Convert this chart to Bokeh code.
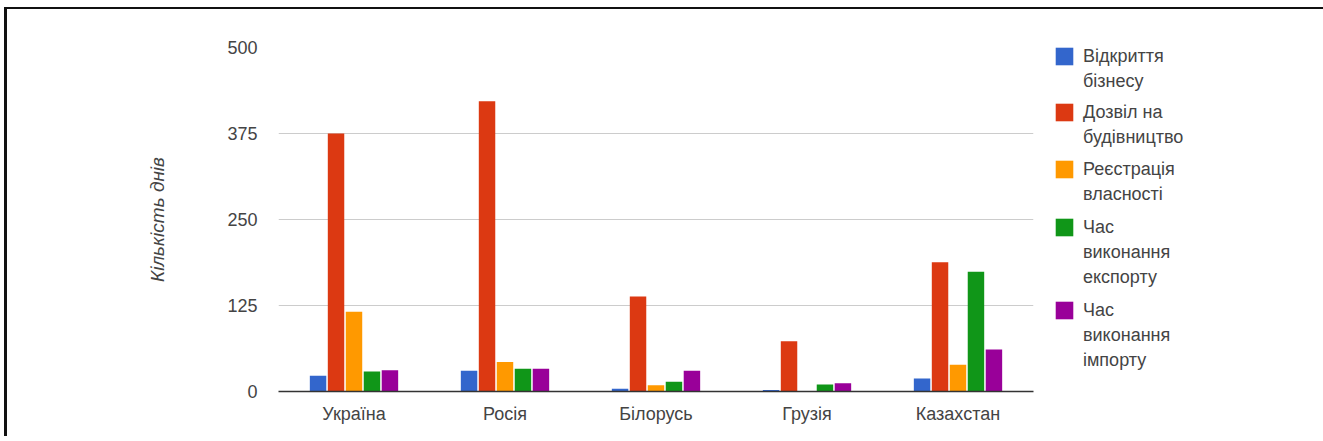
from bokeh.plotting import figure
from bokeh.layouts import row
from bokeh.models import (FactorRange, Range1d, FixedTicker, Legend, LegendItem,
                          ColumnDataSource)
from bokeh.transform import dodge
from bokeh.embed import file_html
from bokeh.resources import INLINE

# Days needed for each procedure, by country
countries = ["Україна", "Росія", "Білорусь", "Грузія", "Казахстан"]
series_lines = [["Відкриття", "бізнесу"], ["Дозвіл на", "будівництво"], ["Реєстрація", "власності"],
                ["Час", "виконання", "експорту"], ["Час", "виконання", "імпорту"]]
start_business = [23, 30, 4, 2, 19]
construction_permit = [375, 422, 138, 73, 188]
property_registration = [116, 43, 9, 0, 39]
export_time = [29, 33, 14, 10, 174]
import_time = [31, 33, 30, 12, 61]
y_ticks = [0, 125, 250, 375, 500]

colors = ["#3366cc", "#dc3912", "#ff9900", "#109618", "#990099"]
series = [start_business, construction_permit, property_registration, export_time, import_time]
keys = ["s0", "s1", "s2", "s3", "s4"]

data = {"country": countries}
for k, vals in zip(keys, series):
    data[k] = vals
source = ColumnDataSource(data)

FONT = "Liberation Sans"
TEXT = "#444444"
H = 436
MAIN_W, LEG_W = 1045, 278
LEFT, RIGHT, TOP, BOTTOM = 278, 12, 47, 45

# ---- main chart ----
p = figure(width=MAIN_W, height=H, output_backend="svg", toolbar_location=None,
           x_range=FactorRange(*countries, range_padding=0), y_range=Range1d(0, 500),
           min_border_left=LEFT, min_border_right=RIGHT, min_border_top=TOP, min_border_bottom=BOTTOM)
p.outline_line_color = None
p.background_fill_color = "white"
p.border_fill_alpha = 0

step = 0.119
bar_w = 0.109
for i, (k, c) in enumerate(zip(keys, colors)):
    p.vbar(x=dodge("country", (i - 2) * step, range=p.x_range), top=k, width=bar_w,
           source=source, fill_color=c, line_color=None)

p.yaxis.ticker = FixedTicker(ticks=y_ticks)
p.yaxis.axis_line_color = None
p.yaxis.major_tick_line_color = None
p.yaxis.major_tick_out = 0
p.yaxis.minor_tick_line_color = None
p.yaxis.major_label_standoff = 21
p.yaxis.major_label_text_font = FONT
p.yaxis.major_label_text_font_size = "18px"
p.yaxis.major_label_text_color = TEXT
p.yaxis.axis_label = "Кількість днів"
p.yaxis.axis_label_text_font = FONT
p.yaxis.axis_label_text_font_size = "19px"
p.yaxis.axis_label_text_font_style = "italic"
p.yaxis.axis_label_text_color = TEXT
p.yaxis.axis_label_standoff = 56

p.xaxis.axis_line_color = "#333333"
p.xaxis.axis_line_width = 1.5
p.xaxis.major_tick_line_color = None
p.xaxis.minor_tick_line_color = None
p.xaxis.major_label_standoff = 6
p.xaxis.major_label_text_font = FONT
p.xaxis.major_label_text_font_size = "18px"
p.xaxis.major_label_text_color = TEXT

p.xgrid.grid_line_color = None
p.ygrid.grid_line_color = "#cccccc"
p.ygrid.grid_line_width = 1

# ---- legend panel ----
lp = figure(width=LEG_W, height=H, output_backend="svg", toolbar_location=None,
            x_range=Range1d(10, 11), y_range=Range1d(10, 11),
            min_border=0, min_border_left=0, min_border_right=0,
            min_border_top=TOP, min_border_bottom=BOTTOM)
lp.axis.visible = False
lp.grid.visible = False
lp.outline_line_color = None
lp.background_fill_alpha = 0
lp.border_fill_alpha = 0

# hidden, empty bars: only their legend swatches show
swatches = [lp.vbar(x=0, top=k, bottom=k, width=0, source=source, fill_color=c,
                    line_color=None, visible=False)
            for k, c in zip(keys, colors)]

GLYPH = 22            # swatch box; the drawn square is 80% of it
LINE_STEP = 25
swatch_tops = [47, 103, 160.5, 218, 301.5]
frame_bottom = H - BOTTOM
for r, lines, top in zip(swatches, series_lines, swatch_tops):
    items = [LegendItem(label=lines[0], renderers=[r])]
    items += [LegendItem(label=t, renderers=[]) for t in lines[1:]]
    n = len(lines)
    box_top = top - GLYPH * 0.1
    height = n * GLYPH + (n - 1) * (LINE_STEP - GLYPH)
    leg = Legend(items=items, location=(8, round(frame_bottom - (box_top + height))),
                 margin=0, padding=0, spacing=LINE_STEP - GLYPH,
                 glyph_width=GLYPH, glyph_height=GLYPH, label_height=GLYPH, label_standoff=8,
                 label_text_font=FONT, label_text_font_size="18px", label_text_color=TEXT,
                 border_line_color=None, background_fill_alpha=0)
    lp.add_layout(leg)

layout = row(p, lp, spacing=0)
# page frame along the top and left edges
layout.styles = {
    "background-color": "white",
    "overflow": "hidden",
    "box-shadow": "inset 4px 7px 0 0 white, inset 7px 9px 0 0 #111111",
}

open("out.html", "w").write(file_html(layout, INLINE))
